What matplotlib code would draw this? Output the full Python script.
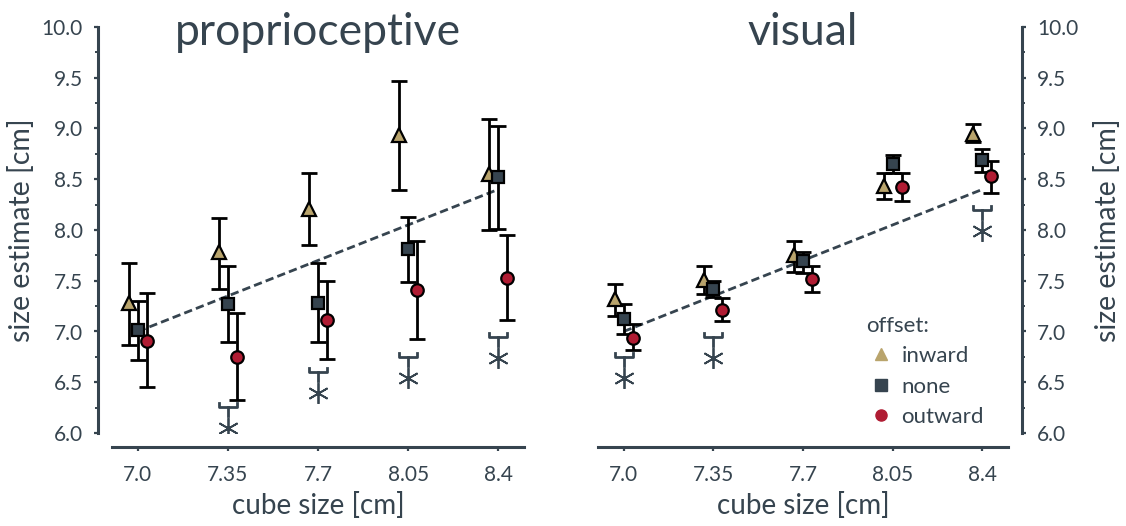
import numpy as np
import matplotlib.pyplot as plt
from matplotlib.lines import Line2D

plt.rcParams['font.family'] = ['Lato', 'DejaVu Sans']

cube_sizes = [7.0, 7.35, 7.7, 8.05, 8.4]
offset_names = ["inward", "none", "outward"]

# proprioceptive estimates (mean, lower, upper)
prop_inward = [7.28, 7.78, 8.21, 8.94, 8.55]
prop_inward_lo = [6.87, 7.42, 7.85, 8.39, 8.00]
prop_inward_hi = [7.67, 8.12, 8.56, 9.47, 9.09]
prop_none = [7.01, 7.27, 7.28, 7.81, 8.52]
prop_none_lo = [6.72, 6.90, 6.90, 7.49, 8.01]
prop_none_hi = [7.30, 7.65, 7.67, 8.13, 9.02]
prop_outward = [6.91, 6.75, 7.11, 7.41, 7.53]
prop_outward_lo = [6.45, 6.33, 6.73, 6.93, 7.11]
prop_outward_hi = [7.38, 7.18, 7.50, 7.89, 7.95]

# visual estimates
vis_inward = [7.32, 7.51, 7.75, 8.43, 8.95]
vis_inward_lo = [7.15, 7.37, 7.59, 8.31, 8.87]
vis_inward_hi = [7.47, 7.65, 7.89, 8.56, 9.04]
vis_none = [7.12, 7.42, 7.69, 8.65, 8.69]
vis_none_lo = [6.98, 7.34, 7.58, 8.56, 8.57]
vis_none_hi = [7.27, 7.50, 7.78, 8.74, 8.80]
vis_outward = [6.94, 7.21, 7.52, 8.42, 8.53]
vis_outward_lo = [6.82, 7.10, 7.39, 8.29, 8.36]
vis_outward_hi = [7.07, 7.33, 7.65, 8.56, 8.68]

# significance brackets
prop_sig_sizes = [7.35, 7.7, 8.05, 8.4]
prop_sig_y = [6.26, 6.60, 6.75, 6.95]
vis_sig_sizes = [7.0, 7.35, 8.4]
vis_sig_y = [6.75, 6.95, 8.20]

y_ticks = [6.0, 6.5, 7.0, 7.5, 8.0, 8.5, 9.0, 9.5, 10.0]
x_tick_labels = ["7.0", "7.35", "7.7", "8.05", "8.4"]

slate = "#36444f"
colors = {"inward": "#b9a46c", "none": "#36444f", "outward": "#b01c33"}
markers = {"inward": "^", "none": "s", "outward": "o"}
shift = {"inward": -0.035, "none": 0.0, "outward": 0.035}


def draw_panel(ax, series, sig_sizes, sig_y, title, side):
    x = np.array(cube_sizes)
    # identity line
    ax.plot([x[0], x[-1]], [x[0], x[-1]], ls=(0, (3, 1.5)), color=slate, lw=2, zorder=2)
    for name in offset_names:
        mean, lo, hi = [np.array(v) for v in series[name]]
        xs = x + shift[name]
        ax.errorbar(xs, mean, yerr=[mean - lo, hi - mean], fmt='none', ecolor='black',
                    elinewidth=2, capsize=5.5, capthick=2, zorder=3)
        ax.plot(xs, mean, ls='none', marker=markers[name], color=colors[name],
                markeredgecolor='black', markeredgewidth=1.6,
                markersize=10 if name == "inward" else 9, zorder=4)
    # significance brackets
    for sx, sy in zip(sig_sizes, sig_y):
        x0, x1 = sx + shift["inward"], sx + shift["outward"]
        ax.plot([x0, x0, x1, x1], [sy + 0.04, sy, sy, sy + 0.04], color=slate, lw=2, zorder=3)
        ax.plot([sx, sx], [sy, sy - 0.09], color=slate, lw=2, zorder=3)
        ax.plot([sx], [sy - 0.21], marker=(6, 2, 0), color=slate, markersize=15,
                markeredgewidth=1.3, ls='none', zorder=3)

    ax.set_xlim(6.9, 8.5)
    ax.set_ylim(6.0, 10.0)
    ax.set_xticks(cube_sizes)
    ax.set_xticklabels(x_tick_labels)
    ax.set_yticks(y_ticks)
    ax.set_yticks(np.arange(6.25, 10.0, 0.5), minor=True)
    ax.set_yticklabels([f"{v:.1f}" for v in y_ticks])

    for s in ["top", "left", "right", "bottom"]:
        ax.spines[s].set_visible(False)
    ax.spines["bottom"].set_visible(True)
    ax.spines["bottom"].set_position(("outward", 10))
    ax.spines[side].set_visible(True)
    ax.spines[side].set_position(("outward", 10))
    for s in ax.spines.values():
        s.set_color(slate)
        s.set_linewidth(2.2)
    if side == "right":
        ax.yaxis.tick_right()
        ax.yaxis.set_label_position("right")
    ax.tick_params(axis='both', which='major', colors=slate, labelcolor=slate,
                   labelsize=15, length=3, width=1.6)
    ax.tick_params(axis='y', which='minor', colors=slate, length=2, width=1.4)
    ax.tick_params(axis='x', pad=10)
    ax.tick_params(axis='y', pad=8)
    ax.set_xlabel("cube size [cm]", fontsize=20, color=slate, labelpad=5)
    ax.set_ylabel("size estimate [cm]", fontsize=20.5, color=slate,
                  labelpad=5 if side == "left" else 11, rotation=90)
    ax.text(0.5, 0.955, title, transform=ax.transAxes, ha='center', va='baseline',
            fontsize=32, color=slate)


fig = plt.figure(figsize=(11.26, 5.26), dpi=100)
ax1 = fig.add_axes([112 / 1126, 1 - 433 / 526, 412 / 1126, 406 / 526])
ax2 = fig.add_axes([598 / 1126, 1 - 433 / 526, 410 / 1126, 406 / 526])

prop = {"inward": (prop_inward, prop_inward_lo, prop_inward_hi),
        "none": (prop_none, prop_none_lo, prop_none_hi),
        "outward": (prop_outward, prop_outward_lo, prop_outward_hi)}
vis = {"inward": (vis_inward, vis_inward_lo, vis_inward_hi),
       "none": (vis_none, vis_none_lo, vis_none_hi),
       "outward": (vis_outward, vis_outward_lo, vis_outward_hi)}

draw_panel(ax1, prop, prop_sig_sizes, prop_sig_y, "proprioceptive", "left")
draw_panel(ax2, vis, vis_sig_sizes, vis_sig_y, "visual", "right")

handles = [Line2D([], [], ls='none', marker=markers[n], color=colors[n], markersize=8)
           for n in offset_names]
leg = ax2.legend(handles, offset_names, loc="lower right",
                 bbox_to_anchor=(0.99, -0.035), frameon=False, fontsize=16,
                 handletextpad=0.15, handlelength=1.5, labelspacing=0.48)
for t in leg.get_texts():
    t.set_color(slate)
ax2.text(0.655, 0.25, "offset:", transform=ax2.transAxes, ha='left', va='baseline',
         fontsize=16, color=slate)

fig.savefig("out.png", dpi=100)
